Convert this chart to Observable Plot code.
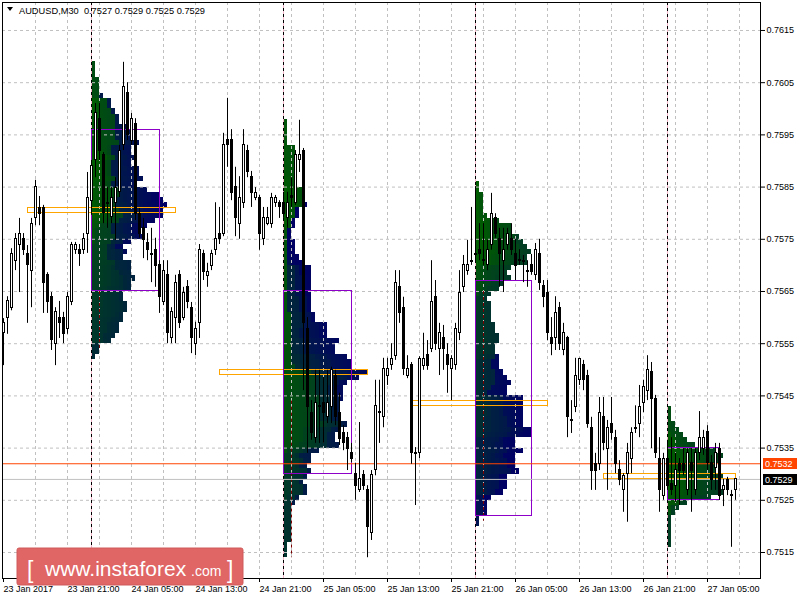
<!DOCTYPE html>
<html><head><meta charset="utf-8">
<script src="https://cdn.jsdelivr.net/npm/d3@7"></script>
<script src="https://cdn.jsdelivr.net/npm/@observablehq/plot@0.6"></script>
<style>body{margin:0;background:#fff}</style>
</head><body><div id="chart"></div>
<script>
// ---- data ----
const symbolTitle = "AUDUSD,M30";
const lastQuote = [0.7527, 0.7529, 0.7525, 0.7529];
const tickBars = [0,16,32,48,64,80,96,112,128,144,160,176];
const tickLabels = ["23 Jan 2017","23 Jan 21:00","24 Jan 05:00","24 Jan 13:00","24 Jan 21:00","25 Jan 05:00","25 Jan 13:00","25 Jan 21:00","26 Jan 05:00","26 Jan 13:00","26 Jan 21:00","27 Jan 05:00"];
const priceTicks = [0.7515,0.7525,0.7535,0.7545,0.7555,0.7565,0.7575,0.7585,0.7595,0.7605,0.7615];
const opens = [.75570,.75600,.75619,.75709,.75740,.75750,.75721,.75690,.75790,.75809,.75809,.75681,.75640,.75550,.75600,.75600,.75579,.75629,.75730,.75730,.75730,.75761,.75824,.75901,.75981,.75911,.75820,.75792,.75820,.75840,.75930,.76031,.75939,.75970,.75799,.75771,.75742,.75721,.75730,.75700,.75629,.75681,.75560,.75600,.75681,.75600,.75658,.75619,.75550,.75589,.75721,.75679,.75698,.75730,.75761,.75761,.75941,.75941,.75851,.75780,.75819,.75920,.75870,.75830,.75830,.75750,.75780,.75780,.75819,.75819,.75819,.75790,.75830,.75819,.75901,.75920,.75579,.75418,.75370,.75430,.75437,.75410,.75428,.75489,.75418,.75378,.75370,.75340,.75301,.75269,.75299,.75269,.75188,.75309,.75420,.75409,.75489,.75510,.75527,.75658,.75619,.75489,.75510,.75340,.75340,.75508,.75529,.75539,.75640,.75539,.75560,.75529,.75501,.75510,.75570,.75658,.75690,.75709,.75721,.75730,.75709,.75700,.75740,.75790,.75750,.75709,.75740,.75750,.75721,.75709,.75709,.75690,.75700,.75681,.75721,.75660,.75648,.75560,.75560,.75619,.75537,.75560,.75403,.75428,.75480,.75510,.75489,.75389,.75319,.75319,.75409,.75349,.75397,.75370,.75309,.75269,.75301,.75330,.75389,.75397,.75437,.75460,.75495,.75445,.75330,.75259,.75330,.75282,.75278,.75319,.75319,.75269,.75321,.75269,.75340,.75349,.75380,.75321,.75311,.75349,.75269,.75288,.75259,.75270];
const highs = [.75598,.75640,.75732,.75761,.75790,.75761,.75738,.75790,.75863,.75832,.75815,.75686,.75648,.75619,.75631,.75610,.75648,.75744,.75744,.75740,.75761,.75878,.75901,.76010,.76010,.75916,.75849,.75849,.75868,.75930,.76089,.76050,.75991,.75981,.75809,.75790,.75761,.75771,.75752,.75709,.75709,.75709,.75619,.75681,.75690,.75658,.75671,.75629,.75591,.75740,.75729,.75704,.75729,.75820,.75811,.75953,.76020,.75960,.75888,.75870,.75960,.75930,.75880,.75849,.75834,.75811,.75811,.75838,.75834,.75824,.75840,.75840,.75868,.75920,.75978,.75924,.75600,.75441,.75499,.75499,.75485,.75499,.75505,.75499,.75455,.75393,.75380,.75359,.75321,.75399,.75307,.75278,.75307,.75480,.75480,.75522,.75522,.75550,.75690,.75690,.75639,.75527,.75514,.75351,.75525,.75570,.75556,.75709,.75671,.75589,.75585,.75550,.75527,.75589,.75690,.75719,.75748,.75811,.75851,.75780,.75780,.75748,.75838,.75799,.75771,.75771,.75771,.75780,.75750,.75730,.75719,.75709,.75721,.75742,.75750,.75671,.75671,.75600,.75640,.75629,.75589,.75564,.75441,.75522,.75522,.75518,.75499,.75409,.75340,.75447,.75447,.75403,.75447,.75384,.75326,.75301,.75359,.75389,.75431,.75470,.75480,.75527,.75514,.75451,.75370,.75340,.75365,.75370,.75340,.75330,.75349,.75349,.75349,.75349,.75420,.75384,.75393,.75336,.75359,.75359,.75290,.75294,.75269,.75290];
const lows = [.75508,.75568,.75613,.75690,.75648,.75719,.75589,.75619,.75776,.75776,.75608,.75608,.75537,.75508,.75560,.75550,.75568,.75623,.75721,.75698,.75721,.75723,.75796,.75868,.75901,.75780,.75771,.75780,.75748,.75830,.75920,.75939,.75930,.75786,.75752,.75713,.75709,.75667,.75658,.75608,.75623,.75550,.75550,.75550,.75579,.75594,.75617,.75531,.75527,.75560,.75671,.75658,.75690,.75719,.75740,.75755,.75888,.75824,.75755,.75750,.75809,.75868,.75811,.75824,.75729,.75738,.75776,.75771,.75811,.75790,.75790,.75771,.75811,.75815,.75878,.75460,.75340,.75365,.75359,.75359,.75359,.75397,.75397,.75393,.75355,.75345,.75307,.75322,.75250,.75265,.75269,.75140,.75173,.75297,.75359,.75389,.75470,.75499,.75518,.75589,.75489,.75483,.75319,.75240,.75330,.75499,.75499,.75533,.75537,.75489,.75499,.75455,.75441,.75499,.75556,.75648,.75681,.75700,.75709,.75709,.75700,.75690,.75729,.75752,.75658,.75648,.75729,.75719,.75671,.75700,.75667,.75658,.75681,.75671,.75652,.75619,.75556,.75527,.75537,.75537,.75527,.75370,.75378,.75418,.75470,.75460,.75388,.75269,.75269,.75307,.75345,.75269,.75365,.75301,.75278,.75227,.75208,.75301,.75378,.75370,.75418,.75441,.75349,.75330,.75227,.75250,.75269,.75259,.75246,.75240,.75297,.75259,.75227,.75259,.75326,.75336,.75307,.75269,.75269,.75250,.75238,.75259,.75160,.75250];
const closes = [.75589,.75631,.75721,.75750,.75761,.75730,.75700,.75780,.75851,.75799,.75667,.75629,.75558,.75610,.75589,.75568,.75640,.75740,.75740,.75721,.75750,.75830,.75891,.75991,.75920,.75801,.75818,.75830,.75849,.75920,.76041,.75949,.75981,.75799,.75761,.75748,.75729,.75719,.75698,.75639,.75690,.75570,.75610,.75667,.75589,.75648,.75629,.75560,.75579,.75730,.75688,.75688,.75721,.75750,.75750,.75930,.75930,.75838,.75790,.75830,.75930,.75878,.75838,.75838,.75761,.75790,.75790,.75830,.75830,.75811,.75799,.75819,.75832,.75911,.75911,.75589,.75428,.75378,.75437,.75428,.75418,.75437,.75499,.75409,.75368,.75359,.75349,.75330,.75278,.75290,.75278,.75198,.75299,.75430,.75418,.75501,.75501,.75520,.75667,.75608,.75501,.75501,.75340,.75338,.75520,.75520,.75508,.75629,.75550,.75570,.75539,.75510,.75520,.75579,.75648,.75700,.75700,.75707,.75719,.75721,.75711,.75730,.75799,.75761,.75721,.75730,.75761,.75730,.75698,.75711,.75707,.75688,.75688,.75730,.75667,.75639,.75570,.75550,.75608,.75550,.75570,.75409,.75401,.75489,.75520,.75480,.75397,.75307,.75307,.75418,.75359,.75389,.75378,.75319,.75288,.75297,.75340,.75378,.75387,.75428,.75468,.75499,.75445,.75340,.75269,.75330,.75278,.75269,.75309,.75307,.75307,.75340,.75307,.75340,.75370,.75370,.75321,.75288,.75340,.75259,.75278,.75269,.75261,.75290];
const sessionStart = [22, 70, 118, 166];
const vaHigh = [0.7596, 0.7565, 0.7567, 0.7535];
const vaLow  = [0.7565, 0.7530, 0.7522, 0.7525];
const pocPrice = [0.7580, 0.7549, 0.7543, 0.7529];
const pocCount = [17, 17, 14, 13];
const markerTop = [0.7565, 0.7544, 0.7565];
const markerBottom = [0.7554, 0.7514, 0.7521];
const askLine = 0.7532, bidLine = 0.7529;

// ---- derived tables ----
const N = opens.length;
const bars = d3.range(N).map(i => ({i, o: opens[i], h: highs[i], l: lows[i], c: closes[i]}));
const bulls = bars.filter(d => d.c - d.o > 0.00004);
const tpoColor = d3.interpolateRgb("#005c00", "#000064");
const cells = [];
sessionStart.forEach(s => {
  const counts = new Map();
  for (let b = s; b < Math.min(s + 48, N); b++) {
    const lo = Math.floor(lows[b] * 1e4 + 1e-6), hi = Math.floor(highs[b] * 1e4 + 1e-6);
    for (let r = lo; r <= hi; r++) {
      const n = counts.get(r) || 0;
      counts.set(r, n + 1);
      cells.push({x1: s + n, x2: s + n + 1, y1: r / 1e4, y2: (r + 1) / 1e4, fill: tpoColor((b - s) / 47)});
    }
  }
});
const sessions = sessionStart.map((s, k) => ({s, vh: vaHigh[k], vl: vaLow[k], poc: pocPrice[k], n: pocCount[k]}));
const markers = markerTop.map((t, k) => ({s: sessionStart[k], t, b: markerBottom[k]}));
const gridStyle = {stroke: "#c0c0c0", strokeOpacity: 1, strokeDasharray: "3,3"};

const plot = Plot.plot({
  width: 800, height: 600,
  marginLeft: 2, marginRight: 40, marginTop: 2, marginBottom: 22,
  x: {domain: [-0.25, 189.25], axis: null},
  y: {domain: [0.751002, 0.762036], axis: null},
  style: {fontFamily: "'Liberation Sans', Arial, sans-serif", fontSize: "9px", background: "#fff", color: "#000", overflow: "visible"},
  marks: [
    Plot.rect(cells, {x1: "x1", x2: "x2", y1: "y1", y2: "y2", fill: "fill", shapeRendering: "crispEdges"}),
    Plot.gridY(priceTicks, gridStyle),
    Plot.gridX(d3.range(8, 189, 8), gridStyle),
    Plot.ruleX(markers, {x: d => d.s + 2, y1: "t", y2: "b", stroke: "#7a0000", strokeDasharray: "3,3"}),
    Plot.ruleX(sessionStart, {stroke: "#f2b6c8"}),
    Plot.ruleX(sessionStart, {stroke: "#000", strokeDasharray: "3,3"}),
    Plot.rect(sessions, {x1: d => d.s - 16 + 0.125, x2: d => d.s + d.n + 4 + 0.125, y1: "poc", y2: d => d.poc + 0.0001, fill: "none", stroke: "#ffa500", shapeRendering: "crispEdges"}),
    Plot.rect(sessions, {x1: d => d.s + 0.125, x2: d => d.s + d.n + 0.125, y1: "vl", y2: "vh", fill: "none", stroke: "#8c00c8", shapeRendering: "crispEdges"}),
    Plot.ruleY([bidLine], {stroke: "#c0c0c0"}),
    Plot.ruleY([askLine], {stroke: "#ff4500"}),
    Plot.ruleX(bars, {x: "i", y1: "l", y2: "h", stroke: "#000"}),
    Plot.rect(bars, {x1: d => d.i - 0.25, x2: d => d.i + 0.5, y1: d => Math.min(d.o, d.c), y2: d => Math.max(d.o, d.c), insetTop: -0.5, insetBottom: -0.5, fill: "#000", shapeRendering: "crispEdges"}),
    Plot.rect(bulls, {x1: "i", x2: d => d.i + 0.25, y1: "o", y2: "c", insetTop: 0.5, insetBottom: 0.5, fill: "#fff", shapeRendering: "crispEdges"}),
    Plot.frame({stroke: "#000"}),
    Plot.axisY(priceTicks, {anchor: "right", tickFormat: d3.format(".4f"), tickSize: 4, tickPadding: 2, fontSize: 9}),
    Plot.axisX(tickBars, {tickFormat: d => tickLabels[tickBars.indexOf(d)], tickSize: 4, tickPadding: 3, textAnchor: "start", fontSize: 9})
  ]
});
document.getElementById("chart").appendChild(plot);

const ys = plot.scale("y");
const svg = d3.select(plot);

// title (symbol, timeframe and last bar OHLC)
svg.append("path").attr("d", "M7,7 L13,7 L10,11 Z").attr("fill", "#000");
svg.append("text").attr("x", 19).attr("y", 14).attr("text-anchor", "start")
  .attr("textLength", 186).attr("lengthAdjust", "spacingAndGlyphs")
  .style("font-size", "9px").style("white-space", "pre")
  .text(symbolTitle + "  " + lastQuote.map(d => d.toFixed(4)).join(" "));

// price labels on the right axis, positioned with the plot's y scale
[[askLine, "#ff4500"], [bidLine, "#000"]].forEach(([p, c]) => {
  const y = ys.apply(p) + 0.5;
  const g = svg.append("g");
  g.append("rect").attr("x", 763).attr("y", Math.round(y - 5.5)).attr("width", 34).attr("height", 11).attr("fill", c);
  g.append("text").attr("x", 765).attr("y", y).attr("dy", "0.35em").attr("text-anchor", "start")
    .attr("fill", "#fff").style("font-size", "9px").text(p.toFixed(4));
});

// watermark
const wm = svg.append("g").attr("text-anchor", "start").attr("fill", "#fff")
  .style("font-family", "'Liberation Sans', Arial, sans-serif");
wm.append("rect").attr("x", 17).attr("y", 548).attr("width", 226).attr("height", 37).attr("rx", 2).attr("fill", "#e06565").attr("stroke", "#d05a5a");
wm.append("text").attr("x", 27).attr("y", 578).style("font-size", "23px").text("[");
wm.append("text").attr("x", 45).attr("y", 576).style("font-size", "21px").text("www.instaforex");
wm.append("text").attr("x", 191).attr("y", 576).style("font-size", "14px").text(".com");
wm.append("text").attr("x", 227).attr("y", 578).style("font-size", "23px").text("]");
</script>
</body></html>
